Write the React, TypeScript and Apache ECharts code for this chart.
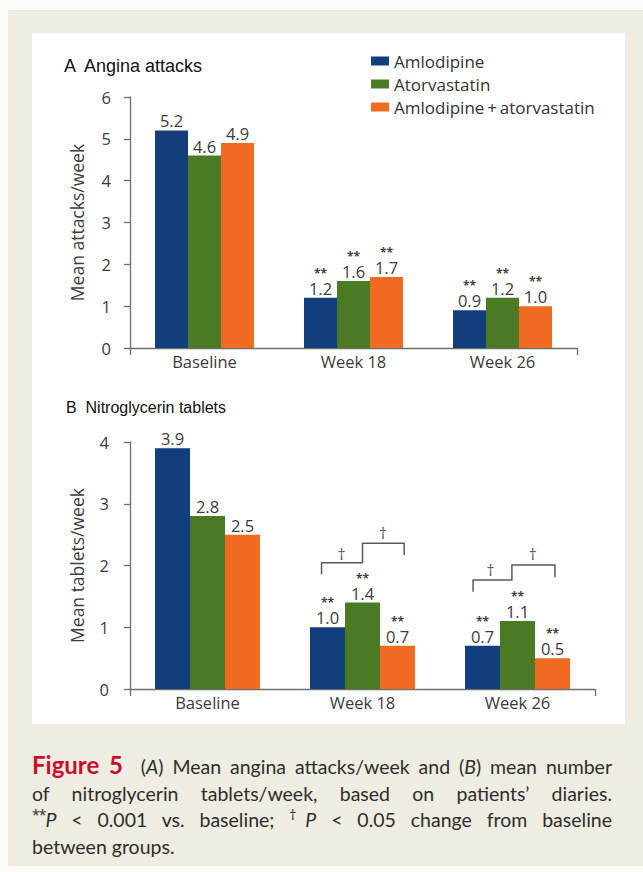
import { useEffect, useRef } from 'react';
import * as echarts from 'echarts';

// Visits and treatment arms
const categories = ['Baseline', 'Week 18', 'Week 26'];
const armNames = ['Amlodipine', 'Atorvastatin', 'Amlodipine\u2009+\u2009atorvastatin'];
const armColors = ['#123f7c', '#4a7a24', '#f06a21'];

// (A) Mean angina attacks per week
const anginaAmlodipine = [5.2, 1.2, 0.9];
const anginaAtorvastatin = [4.6, 1.6, 1.2];
const anginaCombination = [4.9, 1.7, 1.0];

// (B) Mean nitroglycerin tablets per week
const nitroAmlodipine = [3.9, 1.0, 0.7];
const nitroAtorvastatin = [2.8, 1.4, 1.1];
const nitroCombination = [2.5, 0.7, 0.5];

// ** P < 0.001 vs. baseline (per visit, same for every arm)
const significantVsBaseline = [false, true, true];

// Axis ticks
const anginaTicks = [0, 1, 2, 3, 4, 5, 6];
const nitroTicks = [0, 1, 2, 3, 4];

// Between-group brackets (†): x in bar slots from the visit centre, y in tablets/week
const betweenGroupBrackets = [
  {
    category: 1,
    path: [[-1.17, 1.86], [-1.17, 2.045], [0, 2.045], [0, 2.36], [1.19, 2.36], [1.19, 2.17]],
    daggers: [[-0.6, 2.19], [0.59, 2.53]],
  },
  {
    category: 2,
    path: [[-1.27, 1.575], [-1.27, 1.765], [-0.16, 1.765], [-0.16, 2.01], [1.07, 2.01], [1.07, 1.81]],
    daggers: [[-0.77, 1.93], [0.44, 2.18]],
  },
];

const FONT = '"Open Sans", "Noto Sans", sans-serif';
const CAPTION_FONT = 'Lato, "Open Sans", sans-serif';
const TEXT = '#3b3b3b';
const AXIS = '#6e6e6e';
const BAR_A = 33;
const BAR_B = 35;

function valueLabel(distance: number) {
  return {
    show: true,
    position: 'top',
    distance,
    formatter: (p: any) => {
      const v = Number(p.value).toFixed(1);
      return significantVsBaseline[p.dataIndex] ? `{s|**}\n{v|${v}}` : `{v|${v}}`;
    },
    rich: {
      s: { fontSize: 12, lineHeight: 13, color: '#444', fontFamily: FONT, fontWeight: 'bold' },
      v: { fontSize: 16.5, lineHeight: 17, color: TEXT, fontFamily: FONT },
    },
  };
}

function valueAxis(gridIndex: number, ticks: number[], name: string, margin: number) {
  return {
    type: 'value',
    gridIndex,
    min: ticks[0],
    max: ticks[ticks.length - 1],
    interval: ticks[1] - ticks[0],
    name,
    nameLocation: 'middle',
    nameGap: 44,
    nameTextStyle: { fontSize: 17.5, color: TEXT, fontFamily: FONT },
    axisLine: { show: true, lineStyle: { color: AXIS, width: 1.3 } },
    axisTick: { show: true, length: 6, lineStyle: { color: AXIS, width: 1.3 } },
    axisLabel: { margin, fontSize: 16.5, color: TEXT, fontFamily: FONT },
    splitLine: { show: false },
  };
}

function categoryAxis(gridIndex: number) {
  return {
    type: 'category',
    gridIndex,
    data: categories,
    axisLine: { show: true, lineStyle: { color: AXIS, width: 1.3 } },
    axisTick: { show: true, length: 7, interval: (i: number) => i === 0, lineStyle: { color: AXIS, width: 1.3 } },
    axisLabel: { margin: 5, fontSize: 16.5, color: TEXT, fontFamily: FONT },
  };
}

function barSeries(names: string[], values: number[][], axisIndex: number, width: number) {
  return values.map((data, i) => ({
    name: names[i],
    type: 'bar',
    xAxisIndex: axisIndex,
    yAxisIndex: axisIndex,
    data,
    barWidth: width,
    barGap: '0%',
    itemStyle: { color: armColors[i] },
    label: valueLabel(1),
  }));
}

const bracketSeries = {
  type: 'custom',
  xAxisIndex: 1,
  yAxisIndex: 1,
  clip: false,
  silent: true,
  data: betweenGroupBrackets.map((b) => [b.category, Math.max(...b.path.map((p) => p[1]))]),
  encode: { x: 0, y: 1 },
  renderItem: (params: any, api: any) => {
    const b = betweenGroupBrackets[params.dataIndex];
    const toPx = (slot: number, v: number) => {
      const c = api.coord([b.category, v]);
      return [c[0] + slot * BAR_B, c[1]];
    };
    const points = b.path.map(([s, v]) => toPx(s, v));
    const daggers = b.daggers.map(([s, v]) => {
      const [x, y] = toPx(s, v);
      return {
        type: 'text',
        x,
        y,
        style: {
          text: '\u2020',
          fill: '#555',
          font: `16px ${FONT}`,
          align: 'center',
          verticalAlign: 'middle',
          textAlign: 'center',
          textVerticalAlign: 'middle',
        },
      };
    });
    return {
      type: 'group',
      children: [
        {
          type: 'polyline',
          shape: { points },
          style: { stroke: '#5a5a5a', lineWidth: 1.5, fill: 'none' },
        },
        ...daggers,
      ],
    };
  },
};

const option: any = {
  animation: false,
  backgroundColor: 'transparent',
  graphic: [
    { type: 'rect', shape: { x: 8, y: 10, width: 640, height: 856 }, style: { fill: '#efece2' }, z: -10 },
    { type: 'rect', shape: { x: 32, y: 33, width: 593, height: 691 }, style: { fill: '#ffffff' }, z: -9 },
  ],
  title: [
    {
      text: 'A  Angina attacks',
      left: 59,
      top: 52,
      textStyle: { fontSize: 18, fontWeight: 'normal', color: '#111', fontFamily: '"Liberation Sans", Arial, sans-serif' },
    },
    {
      text: 'B  Nitroglycerin tablets',
      left: 61,
      top: 394,
      textStyle: { fontSize: 16, fontWeight: 'normal', color: '#111', fontFamily: '"Liberation Sans", Arial, sans-serif' },
    },
  ],
  legend: {
    data: armNames,
    orient: 'vertical',
    left: 366,
    top: 47,
    icon: 'rect',
    itemWidth: 18,
    itemHeight: 9,
    itemGap: 5,
    selectedMode: false,
    textStyle: { fontSize: 17, color: '#333', fontFamily: FONT, lineHeight: 18 },
  },
  grid: [
    { left: 130, top: 97, width: 447, height: 251 },
    { left: 130, top: 442, width: 465, height: 247 },
  ],
  xAxis: [categoryAxis(0), categoryAxis(1)],
  yAxis: [
    valueAxis(0, anginaTicks, 'Mean attacks/week', 19),
    valueAxis(1, nitroTicks, 'Mean tablets/week', 21),
  ],
  series: [
    ...barSeries(armNames, [anginaAmlodipine, anginaAtorvastatin, anginaCombination], 0, BAR_A),
    ...barSeries(armNames, [nitroAmlodipine, nitroAtorvastatin, nitroCombination], 1, BAR_B),
    bracketSeries,
  ],
};

const justified = {
  textAlign: 'justify' as const,
  textAlignLast: 'justify' as const,
};
const supStyle = { fontSize: 14, lineHeight: 0, fontFamily: FONT, letterSpacing: -1 };

export default function App() {
  const ref = useRef<HTMLDivElement>(null);

  useEffect(() => {
    const chart = echarts.init(ref.current!, null, { renderer: 'svg' });
    chart.setOption(option);
    return () => chart.dispose();
  }, []);

  return (
    <div
      style={{
        position: 'absolute',
        left: 0,
        top: 0,
        width: 643,
        height: 872,
        background: '#fbfbf8',
        overflow: 'hidden',
      }}
    >
      <div ref={ref} style={{ position: 'absolute', left: 0, top: 0, width: 643, height: 872 }} />
      <div
        style={{
          position: 'absolute',
          left: 32,
          top: 752,
          width: 580,
          fontFamily: CAPTION_FONT,
          fontSize: 19.5,
          lineHeight: '26.5px',
          color: '#2e2e2e',
        }}
      >
        <div style={justified}>
          <b style={{ color: '#c8102e', fontSize: 24 }}>Figure 5</b>&nbsp; (<i>A</i>) Mean angina attacks/week and (<i>B</i>) mean number
        </div>
        <div style={justified}>of nitroglycerin tablets/week, based on patients’ diaries.</div>
        <div style={justified}>
          <sup style={supStyle}>**</sup><i>P</i>{' < 0.001 vs. baseline; '}<sup style={supStyle}>†</sup><i>P</i>{' < 0.05 change from baseline'}
        </div>
        <div>between groups.</div>
      </div>
    </div>
  );
}
